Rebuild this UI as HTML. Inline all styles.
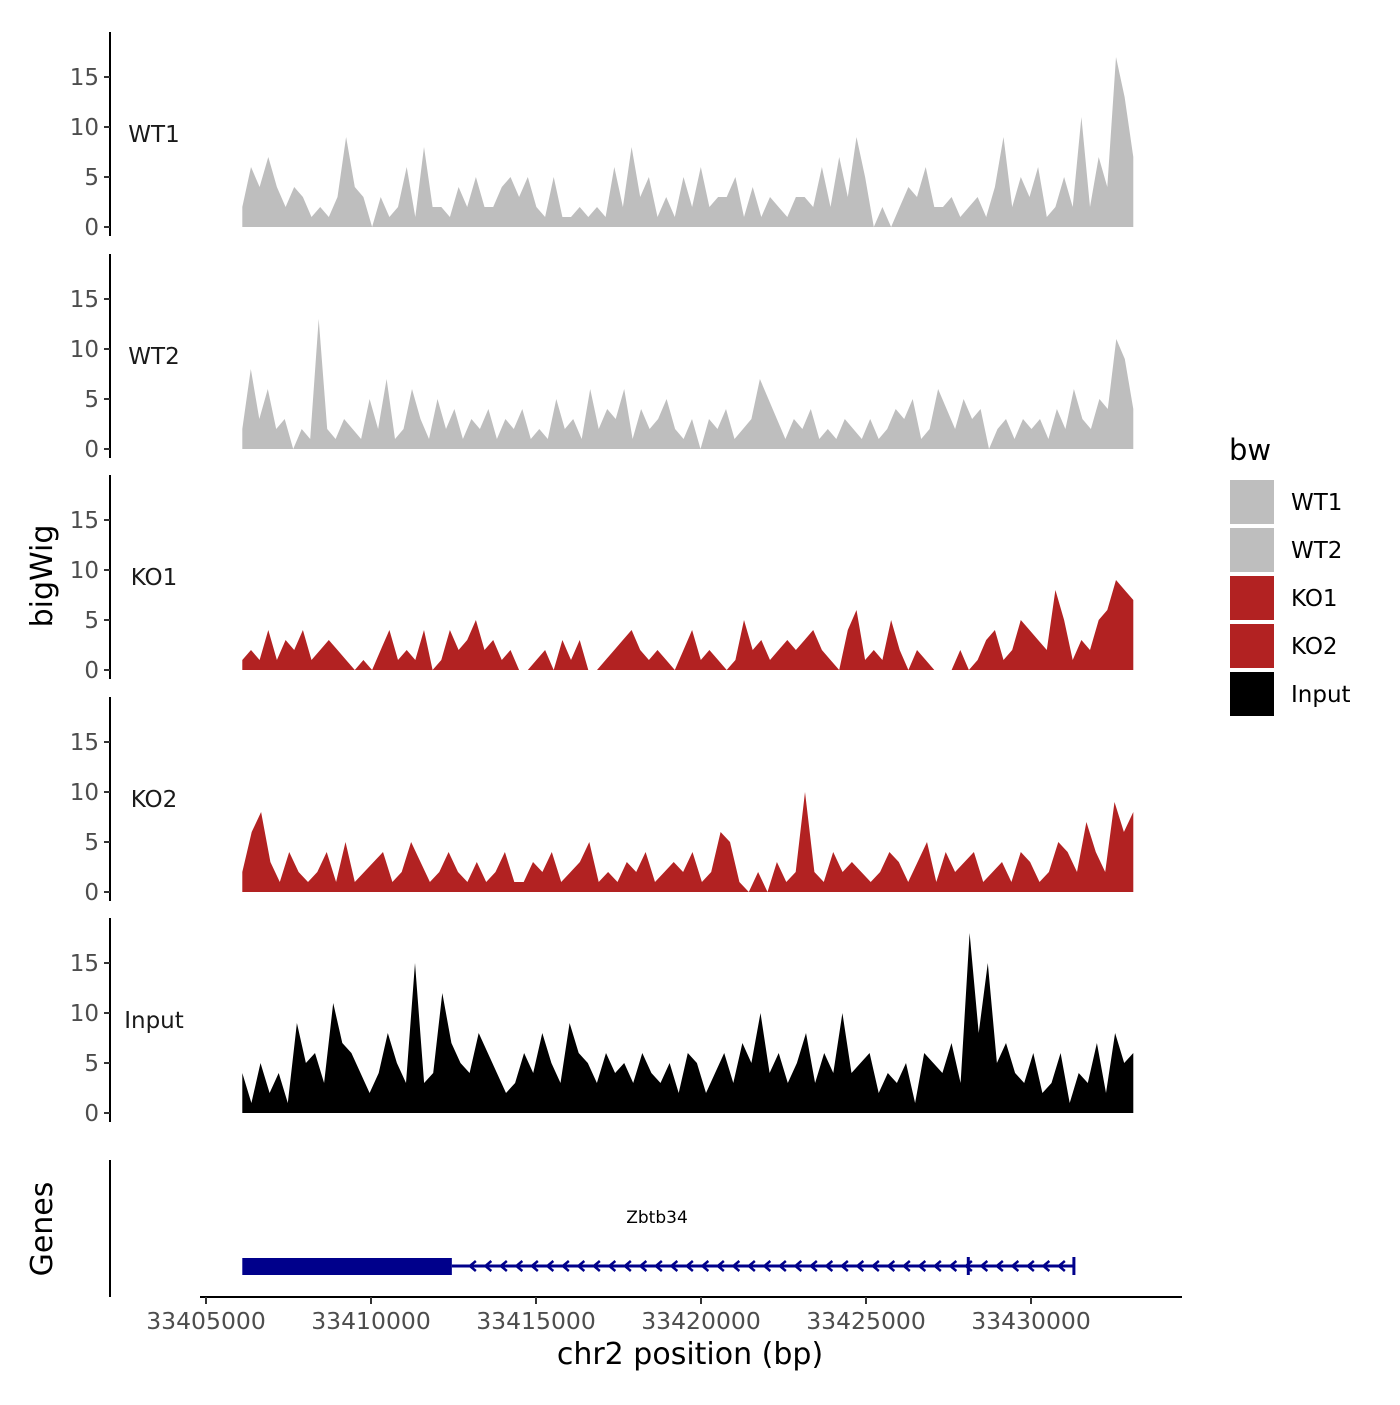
<!DOCTYPE html>
<html><head><meta charset="utf-8"><style>
html,body{margin:0;padding:0;background:#fff;}
svg text{font-family:"DejaVu Sans","Liberation Sans",sans-serif;}
</style></head><body>
<svg id="chart" width="1400" height="1400" xmlns="http://www.w3.org/2000/svg">
<rect width="1400" height="1400" fill="#fff"/>
</svg>
<script>
const trackNames = ["WT1","WT2","KO1","KO2","Input"];
const trackColors = ["#bebebe","#bebebe","#b22222","#b22222","#000000"];
const wt1Values = [2,6,4,7,4,2,4,3,1,2,1,3,9,4,3,0,3,1,2,6,1,8,2,2,1,4,2,5,2,2,4,5,3,5,2,1,5,1,1,2,1,2,1,6,2,8,3,5,1,3,1,5,2,6,2,3,3,5,1,4,1,3,2,1,3,3,2,6,2,7,3,9,5,0,2,0,2,4,3,6,2,2,3,1,2,3,1,4,9,2,5,3,6,1,2,5,2,11,2,7,4,17,13,7];
const wt2Values = [2,8,3,6,2,3,0,2,1,13,2,1,3,2,1,5,2,7,1,2,6,3,1,5,2,4,1,3,2,4,1,3,2,4,1,2,1,5,2,3,1,6,2,4,3,6,1,4,2,3,5,2,1,3,0,3,2,4,1,2,3,7,5,3,1,3,2,4,1,2,1,3,2,1,3,1,2,4,3,5,1,2,6,4,2,5,3,4,0,2,3,1,3,2,3,1,4,2,6,3,2,5,4,11,9,4];
const ko1Values = [1,2,1,4,1,3,2,4,1,2,3,2,1,0,1,0,2,4,1,2,1,4,0,1,4,2,3,5,2,3,1,2,0,0,1,2,0,3,1,3,0,0,1,2,3,4,2,1,2,1,0,2,4,1,2,1,0,1,5,2,3,1,2,3,2,3,4,2,1,0,4,6,1,2,1,5,2,0,2,1,0,0,0,2,0,1,3,4,1,2,5,4,3,2,8,5,1,3,2,5,6,9,8,7];
const ko2Values = [2,6,8,3,1,4,2,1,2,4,1,5,1,2,3,4,1,2,5,3,1,2,4,2,1,3,1,2,4,1,1,3,2,4,1,2,3,5,1,2,1,3,2,4,1,2,3,2,4,1,2,6,5,1,0,2,0,3,1,2,10,2,1,4,2,3,2,1,2,4,3,1,3,5,1,4,2,3,4,1,2,3,1,4,3,1,2,5,4,2,7,4,2,9,6,8];
const inputValues = [4,1,5,2,4,1,9,5,6,3,11,7,6,4,2,4,8,5,3,15,3,4,12,7,5,4,8,6,4,2,3,6,4,8,5,3,9,6,5,3,6,4,5,3,6,4,3,5,2,6,5,2,4,6,3,7,5,10,4,6,3,5,8,3,6,4,10,4,5,6,2,4,3,5,1,6,5,4,7,3,18,8,15,5,7,4,3,6,2,3,6,1,4,3,7,2,8,5,6];
const allValues = [wt1Values,wt2Values,ko1Values,ko2Values,inputValues];
const xTicks = [33405000,33410000,33415000,33420000,33425000,33430000];
const yTicks = [0,5,10,15];
const dataStart = 33406100, dataEnd = 33433100;
const geneName = "Zbtb34";
const geneStart = 33406100, geneEnd = 33431300, cdsEnd = 33412450, exonMark = 33428100;

const NS="http://www.w3.org/2000/svg";
const svg=document.getElementById('chart');
function xs(v){return 206+(v-33405000)*165/5000;}
function mk(tag,attrs,parent){const e=document.createElementNS(NS,tag);for(const k in attrs)e.setAttribute(k,attrs[k]);(parent||svg).appendChild(e);return e;}
const baseY=[227,449,670,892,1113];
const upp=10;
trackNames.forEach((name,t)=>{
  const g=mk('g',{});
  
  
  const b=baseY[t];
  const ys=v=>b-v*upp;
  const vals=allValues[t];
  const n=vals.length;
  let d='M'+xs(dataStart)+','+b;
  vals.forEach((v,i)=>{const x=xs(dataStart+i*(dataEnd-dataStart)/(n-1));d+=' L'+x.toFixed(1)+','+ys(v).toFixed(1);});
  d+=' L'+xs(dataEnd)+','+b+' Z';
  const p=mk('path',{d:d,fill:trackColors[t]},g);
  
  
  const ax=mk('line',{x1:110,x2:110,y1:b-195,y2:b+9,stroke:'#000','stroke-width':2},g);
  
  
  yTicks.forEach(tv=>{
    mk('line',{x1:104,x2:110,y1:ys(tv),y2:ys(tv),stroke:'#333','stroke-width':2},g);
    const tx=mk('text',{x:99,y:ys(tv)+8,'text-anchor':'end','font-size':23,fill:'#4d4d4d'},g);
    tx.textContent=tv;
    
    
  });
  const lb=mk('text',{x:154,y:ys(10)+15,'text-anchor':'middle','font-size':23,fill:'#1a1a1a'},g);
  lb.textContent=name;
  
  
});
const yt=mk('text',{x:0,y:0,transform:'translate(52,576) rotate(-90)','text-anchor':'middle','font-size':30,fill:'#000'});
yt.textContent='bigWig';


const ga=mk('line',{x1:110,x2:110,y1:1160,y2:1297,stroke:'#000','stroke-width':2});


const gt=mk('text',{x:0,y:0,transform:'translate(52,1229) rotate(-90)','text-anchor':'middle','font-size':30,fill:'#000'});
gt.textContent='Genes';


const gl=mk('line',{x1:xs(cdsEnd),x2:xs(geneEnd),y1:1266,y2:1266,stroke:'#00008b','stroke-width':3});


for(let x=xs(cdsEnd)+18;x<xs(geneEnd)-5;x+=15.5){
  mk('path',{d:`M${x+6},${1261} L${x},${1266} L${x+6},${1271}`,fill:'none',stroke:'#00008b','stroke-width':2.5});
}
const gr=mk('rect',{x:xs(geneStart),y:1258,width:xs(cdsEnd)-xs(geneStart),height:17,fill:'#00008b'});


[exonMark,geneEnd].forEach(p=>mk('line',{x1:xs(p),x2:xs(p),y1:1257,y2:1275,stroke:'#00008b','stroke-width':3}));
const gn=mk('text',{x:657,y:1223,'text-anchor':'middle','font-size':17,fill:'#000'});
gn.textContent=geneName;


const xa=mk('line',{x1:200,x2:1182,y1:1297,y2:1297,stroke:'#000','stroke-width':2});


xTicks.forEach(v=>{
  mk('line',{x1:xs(v),x2:xs(v),y1:1297,y2:1304,stroke:'#333','stroke-width':2});
  const t=mk('text',{x:xs(v),y:1329,'text-anchor':'middle','font-size':23.5,fill:'#4d4d4d'});
  t.textContent=v;
  
  
});
const xt=mk('text',{x:690,y:1364,'text-anchor':'middle','font-size':30,fill:'#000'});
xt.textContent='chr2 position (bp)';


const lt=mk('text',{x:1229,y:460,'font-size':29,fill:'#000'});
lt.textContent='bw';


trackNames.forEach((name,i)=>{
  const y=480+i*48;
  const r=mk('rect',{x:1230,y:y,width:44,height:44,fill:trackColors[i]});
  
  
  const t=mk('text',{x:1291,y:y+30,'font-size':23,fill:'#000'});
  t.textContent=name;
  
  
});
</script>
</body></html>
